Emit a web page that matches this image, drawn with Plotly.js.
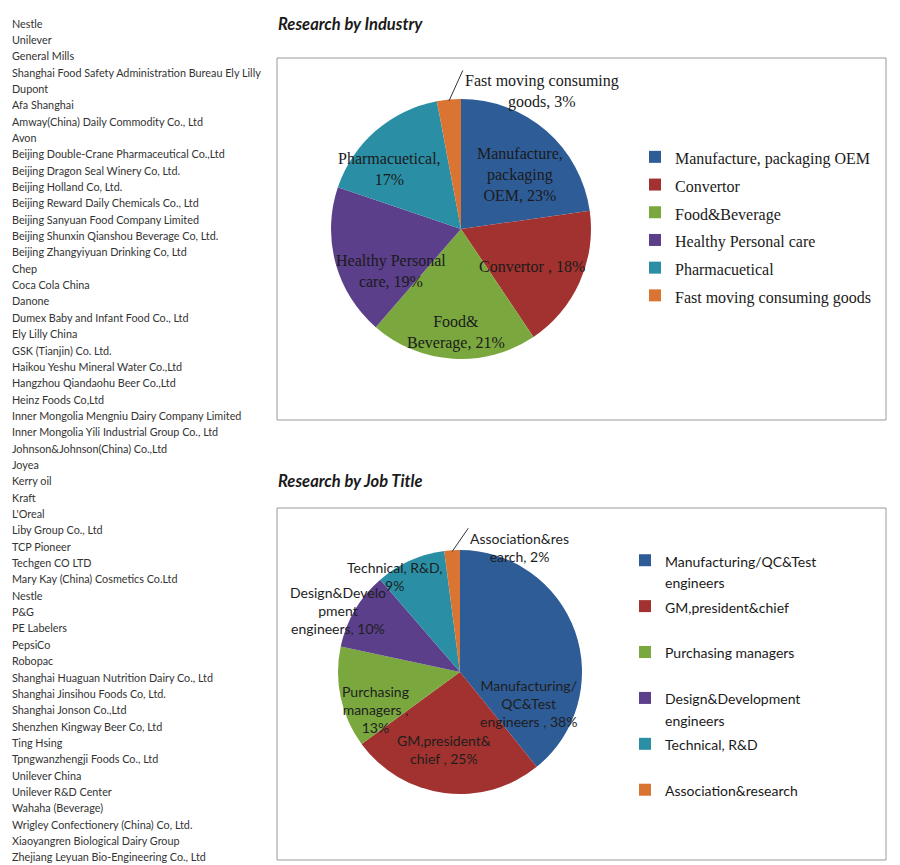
<!DOCTYPE html>
<html>
<head>
<meta charset="utf-8">
<script src="https://cdn.plot.ly/plotly-3.0.1.min.js"></script>
<style>html,body{margin:0;padding:0;background:#fff;}#chart{width:900px;height:865px;}</style>
</head>
<body>
<div id="chart"></div>
<script>
// ---------------- DATA ----------------
const companies = [
  "Nestle","Unilever","General Mills","Shanghai Food Safety Administration Bureau Ely Lilly","Dupont",
  "Afa Shanghai","Amway(China) Daily Commodity Co., Ltd","Avon","Beijing Double-Crane Pharmaceutical Co.,Ltd",
  "Beijing Dragon Seal Winery Co, Ltd.","Beijing Holland Co, Ltd.","Beijing Reward Daily Chemicals Co., Ltd",
  "Beijing Sanyuan Food Company Limited","Beijing Shunxin Qianshou Beverage Co, Ltd.","Beijing Zhangyiyuan Drinking Co, Ltd",
  "Chep","Coca Cola China","Danone","Dumex Baby and Infant Food Co., Ltd","Ely Lilly China","GSK (Tianjin) Co. Ltd.",
  "Haikou Yeshu Mineral Water Co.,Ltd","Hangzhou Qiandaohu Beer Co.,Ltd","Heinz Foods Co,Ltd",
  "Inner Mongolia Mengniu Dairy Company Limited","Inner Mongolia Yili Industrial Group Co., Ltd",
  "Johnson&Johnson(China) Co.,Ltd","Joyea","Kerry oil","Kraft","L'Oreal","Liby Group Co., Ltd","TCP Pioneer",
  "Techgen CO LTD","Mary Kay (China) Cosmetics Co.Ltd","Nestle","P&G","PE Labelers","PepsiCo","Robopac",
  "Shanghai Huaguan Nutrition Dairy Co., Ltd","Shanghai Jinsihou Foods Co, Ltd.","Shanghai Jonson Co.,Ltd",
  "Shenzhen Kingway Beer Co, Ltd","Ting Hsing","Tpngwanzhengji Foods Co., Ltd","Unilever China",
  "Unilever R&D Center","Wahaha (Beverage)","Wrigley Confectionery (China) Co, Ltd.",
  "Xiaoyangren Biological Dairy Group","Zhejiang Leyuan Bio-Engineering Co., Ltd"
];

const industryLabels = ["Manufacture, packaging OEM","Convertor","Food&Beverage","Healthy Personal care","Pharmacuetical","Fast moving consuming goods"];
const industryValues = [23, 18, 21, 19, 17, 3];
const industrySliceText = ["Manufacture,<br>packaging<br>OEM,","Convertor ,","Food&<br>Beverage,","Healthy Personal<br>care,","Pharmacuetical,<br>","Fast moving consuming<br>goods,"];

const jobLabels = ["Manufacturing/QC&Test engineers","GM,president&chief","Purchasing managers","Design&Development engineers","Technical, R&D","Association&research"];
const jobValues = [38, 25, 13, 10, 9, 2];
const jobSliceText = ["Manufacturing/<br>QC&Test<br>engineers ,","GM,president&<br>chief ,","Purchasing<br>managers ,<br>","Design&Develo<br>pment<br>engineers,","Technical, R&D,<br>","Association&res<br>earch,"];

const sliceColors = ["#2E5C97","#A2322F","#7AA83F","#5B3F8A","#2A8FA5","#DA7432"];

// ---------------- LAYOUT HELPERS ----------------
const W = 900, H = 865;
const px = x => x / W;
const py = y => 1 - y / H;
const pct = (t, v) => t + (t.endsWith("<br>") ? "" : " ") + v + "%";
const wrapLegend = l => l.replace(" engineers", "<br>engineers");
const padLegend = l => l.includes("<br>") ? l : l + "<br>\u00a0";
const sized = (l, s) => `<span style="font-size:${s}px">${l}</span>`;

// pie placement in pixels: centre and radius
const pie1 = { cx: 461, cy: 229, r: 130, k: 1.6 };
const pie2 = { cx: 460, cy: 672, r: 122, k: 1.5 };

// label placement: [radius factor, angle shift in degrees from slice middle]; leader-line labels are anchored at their top-left corner
const industryLabelPlacement = [[0.62, 6], [0.62, 4], [0.80, -1], [0.63, -16], [0.72, -9], [1.22, 6]];
const industryLeader = [0, 0, 0, 0, 0, 1];
const jobLabelPlacement = [[0.62, 44], [0.65, 4], [0.76, -12], [1.12, -4], [0.95, -10], [1.18, 7]];
const jobLeader = [0, 0, 0, 0, 0, 1];

function sliceLabels(values, texts, placement, leader, xref, yref, font) {
  const total = values.reduce((a, b) => a + b, 0);
  let cum = 0;
  return values.map((v, i) => {
    const mid = (cum + v / 2) / total * 2 * Math.PI;
    cum += v;
    const [rf, shift] = placement[i];
    const a = mid + shift * Math.PI / 180;
    const tx = rf * Math.sin(a), ty = rf * Math.cos(a);
    const ann = { text: pct(texts[i], v), xref, yref, align: "center", font };
    if (leader[i]) {
      Object.assign(ann, {
        x: 0.99 * Math.sin(mid), y: 0.99 * Math.cos(mid),
        ax: tx, ay: ty, axref: xref, ayref: yref,
        xanchor: "left", yanchor: "top",
        showarrow: true, arrowhead: 0, arrowwidth: 1, arrowcolor: "#333",
        standoff: 0, startstandoff: 0
      });
    } else {
      Object.assign(ann, { x: tx, y: ty, xanchor: "center", yanchor: "middle", showarrow: false });
    }
    return ann;
  });
}

const pieDomain = p => ({ x: [px(p.cx - p.r), px(p.cx + p.r)], y: [py(p.cy + p.r), py(p.cy - p.r)] });

const traces = [
  {
    type: "pie",
    labels: industryLabels.map(l => sized(l, 16)),
    values: industryValues,
    textinfo: "none",
    hoverinfo: "label+value",
    sort: false,
    direction: "clockwise",
    rotation: 0,
    marker: { colors: sliceColors, line: { width: 0 } },
    domain: pieDomain(pie1),
    legend: "legend",
    automargin: false
  },
  {
    type: "pie",
    labels: jobLabels.map(l => sized(padLegend(wrapLegend(l)), 14)),
    values: jobValues,
    textinfo: "none",
    hoverinfo: "value",
    sort: false,
    direction: "clockwise",
    rotation: 0,
    marker: { colors: sliceColors, line: { width: 0 } },
    domain: pieDomain(pie2),
    legend: "legend2",
    automargin: false
  }
];

const annotations = companies.map((c, i) => ({
  text: c, xref: "paper", yref: "paper", x: px(10), y: py(23 + i * 16.35),
  xanchor: "left", yanchor: "middle", showarrow: false,
  font: { family: "Lato, sans-serif", size: 10.8, color: "#333" }
}));
annotations.push({
  text: "<b><i>Research by Industry</i></b>", xref: "paper", yref: "paper", x: px(276), y: py(24),
  xanchor: "left", yanchor: "middle", showarrow: false,
  font: { family: "Lato, sans-serif", size: 16.5, color: "#1a1a1a" }
});
annotations.push({
  text: "<b><i>Research by Job Title</i></b>", xref: "paper", yref: "paper", x: px(276), y: py(481),
  xanchor: "left", yanchor: "middle", showarrow: false,
  font: { family: "Lato, sans-serif", size: 16.5, color: "#1a1a1a" }
});
annotations.push(...sliceLabels(industryValues, industrySliceText, industryLabelPlacement, industryLeader, "x", "y",
  { family: "Liberation Serif, serif", size: 16, color: "#1a1a1a" }));
annotations.push(...sliceLabels(jobValues, jobSliceText, jobLabelPlacement, jobLeader, "x2", "y2",
  { family: "Lato, sans-serif", size: 14, color: "#1e1e1e" }));

const shapes = [
  { type: "rect", xref: "paper", yref: "paper", x0: px(277), x1: px(886), y0: py(420), y1: py(58), line: { color: "#9a9a9a", width: 1 } },
  { type: "rect", xref: "paper", yref: "paper", x0: px(277), x1: px(886), y0: py(860), y1: py(508), line: { color: "#9a9a9a", width: 1 } }
];

// hidden axes whose unit equals the pie radius, centred on the pie
const hiddenAxis = (p, isX, anchor) => ({
  domain: isX ? [px(p.cx - p.k * p.r), px(p.cx + p.k * p.r)] : [py(p.cy + p.k * p.r), py(p.cy - p.k * p.r)],
  range: [-p.k, p.k], visible: false, fixedrange: true, showgrid: false, zeroline: false, anchor
});

const layout = {
  width: W, height: H,
  margin: { l: 0, r: 0, t: 0, b: 0 },
  paper_bgcolor: "#fff",
  plot_bgcolor: "rgba(0,0,0,0)",
  showlegend: true,
  xaxis: hiddenAxis(pie1, true, "y"),
  yaxis: hiddenAxis(pie1, false, "x"),
  xaxis2: hiddenAxis(pie2, true, "y2"),
  yaxis2: hiddenAxis(pie2, false, "x2"),
  legend: {
    x: px(635), y: py(138), xanchor: "left", yanchor: "top",
    font: { family: "Liberation Serif, serif", size: 19, color: "#1a1a1a" },
    bgcolor: "rgba(0,0,0,0)", traceorder: "normal"
  },
  legend2: {
    x: px(625), y: py(543), xanchor: "left", yanchor: "top",
    font: { family: "Lato, sans-serif", size: 16.5, color: "#1a1a1a" },
    bgcolor: "rgba(0,0,0,0)", valign: "top", traceorder: "normal"
  },
  annotations, shapes
};

Plotly.newPlot("chart", traces, layout, { staticPlot: true, displayModeBar: false });
</script>
</body>
</html>
